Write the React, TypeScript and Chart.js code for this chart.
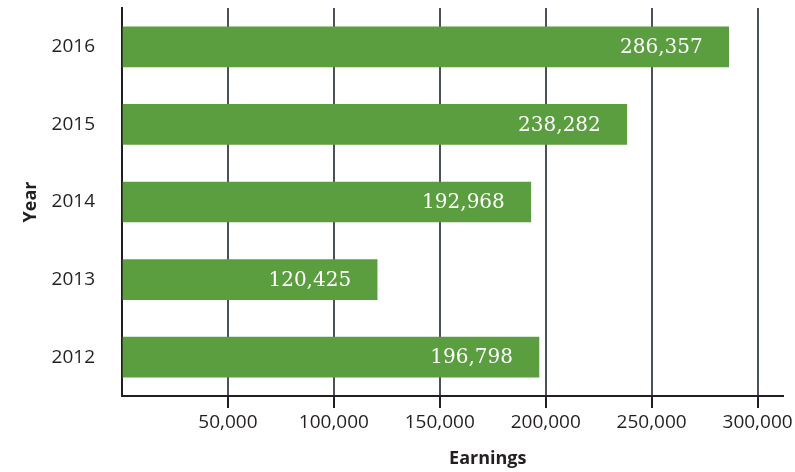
import React, { useEffect, useRef } from "react";
import { Chart, registerables } from "chart.js";

Chart.register(...registerables);

const years = ["2016", "2015", "2014", "2013", "2012"];
const earnings = [286357, 238282, 192968, 120425, 196798];
const xTicks = [0, 50000, 100000, 150000, 200000, 250000, 300000];
const xMax = 312000;
const xTitle = "Earnings";
const yTitle = "Year";

const BAR = "#5b9e40";
const GRID = "#4b515c";
const AXIS = "#231f20";
const TEXT = "#231f20";

const valueLabels = {
  id: "valueLabels",
  afterDatasetsDraw(chart: any) {
    const ctx = chart.ctx;
    const meta = chart.getDatasetMeta(0);
    ctx.save();
    ctx.fillStyle = "#ffffff";
    ctx.font = '20px "DejaVu Serif"';
    ctx.textAlign = "right";
    ctx.textBaseline = "middle";
    meta.data.forEach((bar: any, i: number) => {
      ctx.fillText(earnings[i].toLocaleString("en-US"), bar.x - 26, bar.y + 1);
    });
    ctx.restore();
  },
};

const xTitlePlugin = {
  id: "xTitlePlugin",
  afterDraw(chart: any) {
    const ctx = chart.ctx;
    const xs = chart.scales.x;
    const cx = (xs.getPixelForValue(xTicks[1]) + xs.getPixelForValue(xTicks[xTicks.length - 1])) / 2 - 5;
    ctx.save();
    ctx.fillStyle = TEXT;
    ctx.font = 'bold 18px "Open Sans"';
    ctx.textAlign = "center";
    ctx.textBaseline = "middle";
    ctx.fillText(xTitle, cx, 459);
    ctx.restore();
  },
};

export default function App() {
  const ref = useRef<HTMLCanvasElement>(null);
  useEffect(() => {
    if (!ref.current) return;
    const chart = new Chart(ref.current, {
      type: "bar",
      data: {
        labels: years,
        datasets: [
          {
            data: earnings,
            backgroundColor: BAR,
            borderWidth: 0,
            barThickness: 40,
          },
        ],
      },
      plugins: [valueLabels, xTitlePlugin],
      options: {
        indexAxis: "y",
        animation: false,
        responsive: true,
        maintainAspectRatio: false,
        layout: { padding: { top: 8, right: 12, left: 0, bottom: 0 } },
        plugins: {
          legend: { display: false },
          tooltip: { enabled: false },
        },
        scales: {
          x: {
            min: 0,
            max: xMax,
            afterBuildTicks: (s: any) => {
              s.ticks = xTicks.map((v) => ({ value: v }));
            },
            afterFit: (s: any) => {
              s.height = 76;
              s.paddingLeft = 0;
              s.paddingRight = 0;
            },
            ticks: {
              color: TEXT,
              font: { family: "Open Sans", size: 19 },
              padding: 3,
              maxRotation: 0,
              autoSkip: false,
              callback: (v: any) => (v === 0 ? "" : Number(v).toLocaleString("en-US")),
            },
            grid: {
              color: (c: any) => (c.tick && c.tick.value === 0 ? "rgba(0,0,0,0)" : GRID),
              lineWidth: 2,
              tickLength: 12,
              tickWidth: 2,
              tickColor: (c: any) => (c.tick && c.tick.value === 0 ? "rgba(0,0,0,0)" : AXIS),
            },
            border: { display: true, color: AXIS, width: 2 },
          },
          y: {
            afterFit: (s: any) => {
              s.width = 122;
              s.paddingTop = 0;
              s.paddingBottom = 0;
            },
            title: {
              display: true,
              text: yTitle,
              color: TEXT,
              font: { family: "Open Sans", size: 18, weight: "bold" },
              padding: { top: 20, bottom: 0 },
            },
            ticks: {
              color: TEXT,
              font: { family: "Open Sans", size: 19 },
              padding: 27,
            },
            grid: { display: false, drawTicks: false },
            border: { display: true, color: AXIS, width: 2 },
          },
        },
      },
    });
    return () => chart.destroy();
  }, []);
  return (
    <div style={{ position: "fixed", left: 0, top: 0, width: 795, height: 472, background: "#fff" }}>
      <canvas ref={ref} />
    </div>
  );
}
